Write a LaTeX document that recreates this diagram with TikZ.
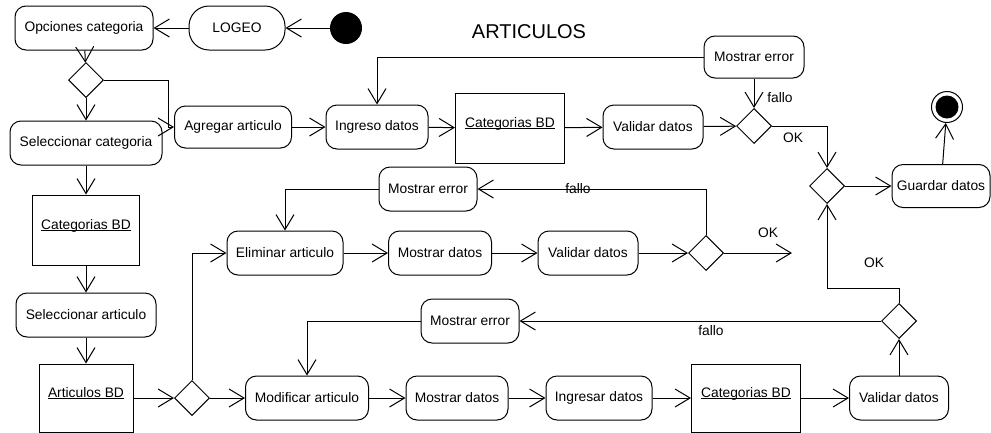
\documentclass[tikz,border=0pt]{standalone}
\usepackage{fontspec}
\setmainfont{Liberation Sans}
\usetikzlibrary{arrows.meta,shapes.geometric}
\newcommand{\subrayar}[1]{\underline{\smash{#1}}}
\begin{document}
\begin{tikzpicture}[x=1pt,y=-1pt,line width=1pt,
    every node/.style={font=\fontsize{13.8}{16}\selectfont},
    act/.style={draw,rounded corners=11pt,minimum height=44pt,inner sep=0pt},
    obj/.style={draw,minimum height=70pt,inner sep=0pt},
    dec/.style={draw,diamond,minimum size=35pt,inner sep=0pt},
    >={Straight Barb[length=15pt,width=18pt]}]
      \useasboundingbox (0,0) rectangle (991,432);
      \draw
        (84,28) node[act,minimum width=138pt] (opc){Opciones categoria}
        (237,28) node[act,minimum width=96pt,rounded corners=20pt] (logeo){LOGEO}
        (346,28) node[circle,fill=black,minimum size=32pt,inner sep=0pt] (ini){}
        (529,32) node[font=\fontsize{20}{24}\selectfont] (titulo){ARTICULOS}
        (86,80) node[dec] (d1){}
        (86,143) node[act,minimum width=152pt] (selcat){Seleccionar categoria}
        (233,127) node[act,minimum width=117pt,minimum height=42pt] (agr){Agregar articulo}
        (377,127) node[act,minimum width=102pt] (ing){Ingreso datos}
        (510,128) node[obj,minimum width=109pt] (catA){\subrayar{Categorias BD}}
        (653,127) node[act,minimum width=100pt] (valA){Validar datos}
        (754,126) node[dec] (dA){}
        (754,57) node[act,minimum width=100pt,minimum height=42pt] (errA){Mostrar error}
        (827,186) node[dec] (dB){}
        (941,186) node[act,minimum width=98pt,minimum height=43pt] (guardar){Guardar datos}
        (947,107) node[circle,draw,minimum size=31pt,inner sep=0pt] (fin){}
        (947,107) node[circle,fill=black,minimum size=23pt,inner sep=0pt] (finin){}
        (86,230) node[obj,minimum width=107pt] (catL){\subrayar{Categorias BD}}
        (86,315) node[act,minimum width=140pt] (selart){Seleccionar articulo}
        (86,398) node[obj,minimum width=94pt,minimum height=68pt] (artBD){\subrayar{Articulos BD}}
        (192,398) node[dec] (dC){}
        (285,253) node[act,minimum width=116pt] (elim){Eliminar articulo}
        (440,253) node[act,minimum width=103pt] (mdM){Mostrar datos}
        (588,253) node[act,minimum width=100pt] (valM){Validar datos}
        (706,253) node[dec] (dM){}
        (428,189) node[act,minimum width=98pt] (errM){Mostrar error}
        (307,398) node[act,minimum width=123pt] (mod){Modificar articulo}
        (457,398) node[act,minimum width=102pt] (mdB){Mostrar datos}
        (599,398) node[act,minimum width=106pt] (ingB){Ingresar datos}
        (746,398) node[obj,minimum width=109pt,minimum height=68pt] (catB){\subrayar{Categorias BD}}
        (899,398) node[act,minimum width=99pt] (valB){Validar datos}
        (899,321) node[dec] (dD){}
        (470,321) node[act,minimum width=98pt] (errB){Mostrar error}
        (780,98) node (lfalloA){fallo}
        (793,138) node (lokA){OK}
        (578,189) node (lfalloM){fallo}
        (768,233) node (lokM){OK}
        (874,263) node (lokD){OK}
        (711,331) node (lfalloD){fallo};
      \coordinate (okfin) at (792,253);
      \begin{scope}[->]
        \draw (ini) to (logeo);
        \draw (logeo) to (opc);
        \draw (opc) to (d1);
        \draw (d1) to (selcat);
        \draw (d1.east) -- ++(64,0) |- (agr.west);
        \draw (agr) to (ing);
        \draw (ing) to (catA);
        \draw (catA) to (valA);
        \draw (valA) to (dA);
        \draw (errA) to (dA);
        \draw (errA.west) -| (ing.north);
        \draw (dA.east) -| (dB.north);
        \draw (dB) to (guardar);
        \draw (guardar) to (fin);
        \draw (selcat) to (catL);
        \draw (catL) to (selart);
        \draw (selart) to (artBD);
        \draw (artBD) to (dC);
        \draw (dC) to (mod);
        \draw (dC.north) |- (elim.west);
        \draw (elim) to (mdM);
        \draw (mdM) to (valM);
        \draw (valM) to (dM);
        \draw (dM) to (okfin);
        \draw (dM.north) |- (errM.east);
        \draw (errM.west) -| (elim.north);
        \draw (mod) to (mdB);
        \draw (mdB) to (ingB);
        \draw (ingB) to (catB);
        \draw (catB) to (valB);
        \draw (valB) to (dD);
        \draw (dD) to (errB);
        \draw (errB.west) -| (mod.north);
        \draw (dD.north) -- ++(0,-15) -| (dB.south);
      \end{scope}
    \end{tikzpicture}
\end{document}
